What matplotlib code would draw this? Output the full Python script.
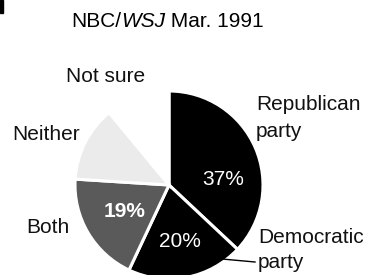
"""NBC/WSJ poll, March 1991 - party preference pie, redrawn with matplotlib."""
import matplotlib

matplotlib.use("Agg")
import matplotlib.pyplot as plt
from matplotlib.patches import Rectangle

# Data, clockwise from 12 o'clock
PARTIES = ["Republican party", "Democratic party", "Both", "Neither", "Not sure"]
SHARES = [37, 20, 19, 13, 11]
SHOWN_PCT = ["37%", "20%", "19%", None, None]
COLORS = ["#000000", "#000000", "#5a5a5a", "#ebebeb", "#ffffff"]

W, H = 377, 275
FONT = "Liberation Sans"
FS = 15


def px(y):
    """Convert a top-down pixel row to the y-up axes coordinate."""
    return H - y


def main() -> int:
    fig = plt.figure(figsize=(W / 100, H / 100), dpi=100)
    ax = fig.add_axes([0, 0, 1, 1])

    ax.pie(SHARES, colors=COLORS, startangle=90, counterclock=False,
           center=(169, px(185)), radius=94, frame=True,
           wedgeprops=dict(edgecolor="white", linewidth=2.2))
    ax.set_xlim(0, W)
    ax.set_ylim(0, H)
    ax.set_aspect("auto")
    ax.axis("off")

    # percent labels inside the wedges
    pct_pos = [(223, 185), (180, 247), (125, 217)]
    for lab, (x, y) in zip([p for p in SHOWN_PCT if p], pct_pos):
        weight = "bold" if lab == "19%" else "normal"
        ax.text(x, px(y), lab, color="white", fontsize=FS, family=FONT,
                ha="center", va="baseline", fontweight=weight)

    # outside category labels (one text per printed line)
    rep, dem, both, neither, notsure = PARTIES
    lines = [
        (rep.split()[0], 256, 110, "left"),
        (rep.split()[1], 256, 137, "left"),
        (dem.split()[0], 258, 243, "left"),
        (dem.split()[1], 258, 268, "left"),
        (both, 70, 233, "right"),
        (neither, 80, 140, "right"),
        (notsure, 106, 82, "center"),
    ]
    for txt, x, y, ha in lines:
        ax.text(x, px(y), txt, fontsize=FS, family=FONT, ha=ha,
                va="baseline", color="#111111")

    # leader line for Democratic party
    ax.plot([222, 255], [px(259), px(262)], color="black", lw=1.0)

    # title with italic WSJ
    t1 = ax.text(71, px(27), "NBC/", fontsize=FS, family=FONT, va="baseline")
    fig.canvas.draw()
    r = fig.canvas.get_renderer()
    inv = ax.transData.inverted()
    x1 = inv.transform(t1.get_window_extent(r).get_points())[1][0]
    t2 = ax.text(x1, px(27), "WSJ", fontsize=FS, family=FONT,
                 style="italic", va="baseline")
    x2 = inv.transform(t2.get_window_extent(r).get_points())[1][0]
    ax.text(x2, px(27), " Mar. 1991", fontsize=FS, family=FONT, va="baseline")

    # scan artefact at top-left corner
    ax.add_patch(Rectangle((0, px(13)), 3, 13, color="black", clip_on=False))

    fig.savefig("out.png", dpi=100)
    plt.close(fig)
    return 0


if __name__ == "__main__":
    raise SystemExit(main())
